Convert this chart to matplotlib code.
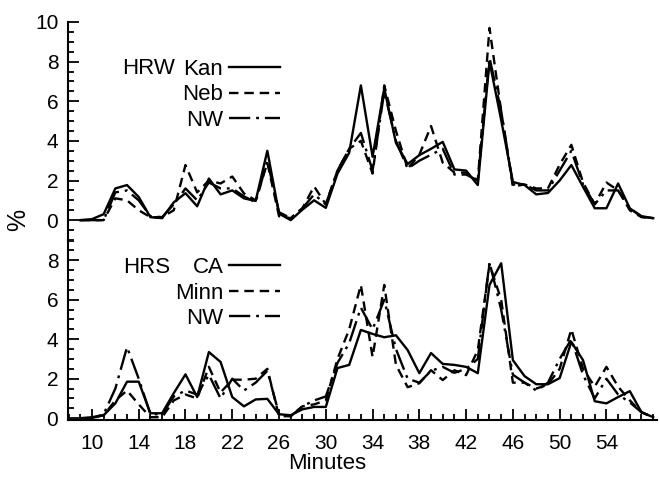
import matplotlib
matplotlib.use('Agg')
import matplotlib.pyplot as plt
from matplotlib.ticker import MultipleLocator

plt.rcParams['font.family'] = ['Liberation Sans', 'DejaVu Sans']

# minutos de 9 a 58
minutos = list(range(9, 59))

# painel superior (HRW)
kan = [0, 0.05, 0.3, 1.6, 1.77, 1.17, 0.15, 0.1, 0.9, 1.36, 0.7, 2.1, 1.3, 1.5, 1.1, 0.97,
       3.5, 0.33, 0, 0.53, 1.0, 0.62, 2.35, 3.4, 6.8, 3.2, 6.65, 3.9, 2.83, 3.28, 3.6, 3.95,
       2.56, 2.5, 1.77, 8.0, 5.05, 1.93, 1.77, 1.3, 1.37, 2.0, 2.78, 1.68, 0.6, 0.6, 1.85, 0.6,
       0.17, 0.1]
neb = [0, 0, 0, 1.1, 1.0, 0.5, 0.15, 0.15, 0.5, 2.78, 1.4, 2.0, 1.85, 2.2, 1.35, 1.0,
       2.9, 0.2, 0.1, 0.6, 1.7, 0.8, 2.5, 3.6, 4.0, 2.35, 6.8, 4.5, 2.6, 3.3, 4.75, 2.9,
       2.4, 2.4, 2.0, 9.7, 5.5, 1.7, 1.8, 1.6, 1.6, 2.8, 3.8, 1.9, 0.8, 1.9, 1.5, 0.5,
       0.15, 0.1]
nw1 = [0, 0, 0, 1.4, 1.5, 1.0, 0.2, 0.15, 0.8, 1.6, 1.0, 1.9, 1.6, 1.6, 1.2, 0.9,
       3.0, 0.4, 0.1, 0.6, 1.3, 0.8, 2.5, 3.6, 4.4, 2.5, 6.5, 4.0, 2.6, 3.0, 3.3, 3.6,
       2.3, 2.3, 2.0, 8.2, 5.5, 1.8, 1.8, 1.5, 1.5, 2.5, 3.5, 1.8, 0.8, 1.5, 1.5, 0.6,
       0.2, 0.1]

# painel inferior (HRS)
ca = [0, 0.05, 0.15, 0.75, 1.85, 1.85, 0.25, 0.25, 1.27, 2.22, 1.07, 3.35, 2.85, 1.07, 0.6, 0.95,
      0.98, 0.2, 0.15, 0.45, 0.57, 0.57, 2.54, 2.7, 4.47, 4.27, 4.1, 4.2, 3.45, 2.28, 3.3, 2.75,
      2.7, 2.6, 2.28, 6.75, 7.85, 2.94, 2.13, 1.72, 1.72, 2.03, 3.86, 2.94, 0.86, 0.75, 1.07, 1.37,
      0.3, 0.05]
minn = [0, 0, 0.15, 0.9, 1.4, 0.7, 0.05, 0.05, 0.9, 1.2, 1.0, 2.6, 1.3, 1.95, 1.95, 2.0,
        2.5, 0.1, 0.1, 0.6, 0.7, 0.9, 3.0, 4.5, 6.75, 3.1, 6.75, 2.7, 1.57, 1.77, 2.43, 1.93,
        2.43, 2.18, 3.45, 7.8, 6.0, 1.8, 1.8, 1.5, 1.7, 2.5, 4.5, 2.5, 1.6, 2.6, 1.6, 0.9,
        0.3, 0.05]
nw2 = [0, 0, 0.2, 1.5, 3.6, 2.0, 0.2, 0.2, 1.1, 1.4, 1.2, 2.2, 1.0, 2.0, 1.4, 1.8,
       2.4, 0.2, 0.1, 0.6, 0.9, 1.1, 2.8, 3.8, 5.6, 4.5, 6.0, 3.5, 2.0, 1.8, 2.4, 2.6,
       2.3, 2.5, 3.0, 7.9, 5.5, 2.2, 1.8, 1.4, 1.8, 3.0, 4.0, 2.2, 1.0, 2.0, 1.2, 0.8,
       0.3, 0.05]

fs = 15   # ticks
ft = 16   # textos
lw = 1.7
tr = (0, (4, 2.5))
tp = (0, (9, 2.5, 1.2, 2.5))

fig = plt.figure(figsize=(6.6, 4.78), dpi=100)
ax1 = fig.add_axes([0.103, 0.498, 0.892, 0.456])
ax2 = fig.add_axes([0.103, 0.121, 0.892, 0.377])

ax1.plot(minutos, kan, 'k-', lw=lw, label='Kan')
ax1.plot(minutos, neb, color='k', ls=tr, lw=lw, label='Neb')
ax1.plot(minutos, nw1, color='k', ls=tp, lw=lw, label='NW')
ax2.plot(minutos, ca, 'k-', lw=lw, label='CA')
ax2.plot(minutos, minn, color='k', ls=tr, lw=lw, label='Minn')
ax2.plot(minutos, nw2, color='k', ls=tp, lw=lw, label='NW')

for ax in (ax1, ax2):
    ax.set_xlim(7.95, 58.3)
    for s in ('top', 'right'):
        ax.spines[s].set_visible(False)
    ax.spines['left'].set_linewidth(1.5)
    ax.spines['bottom'].set_linewidth(1.5)
    ax.yaxis.set_major_locator(MultipleLocator(2))
    ax.yaxis.set_minor_locator(MultipleLocator(0.5))
    ax.tick_params(axis='y', which='both', direction='in', labelsize=fs, width=1.3, pad=7)
    ax.tick_params(axis='y', which='major', length=8)
    ax.tick_params(axis='y', which='minor', length=4)

ax1.set_ylim(-1.0, 10)
ax1.spines['bottom'].set_visible(False)
ax1.set_xticks([])
ax2.set_ylim(-0.1, 9.03)
ax2.set_yticks([0, 2, 4, 6, 8])
ax2.xaxis.set_major_locator(MultipleLocator(4))
ax2.xaxis.set_minor_locator(MultipleLocator(1))
ax2.set_xticks(range(10, 58, 4))
ax2.tick_params(axis='x', which='both', direction='in', labelsize=fs, width=1.3, pad=10)
ax2.tick_params(axis='x', which='major', length=8)
ax2.tick_params(axis='x', which='minor', length=4)
ax2.set_xlabel('Minutes', fontsize=ft, labelpad=0, x=0.441)

fig.text(0.027, 0.54, '%', fontsize=ft + 2, rotation=90, va='center', ha='center')

l1 = ax1.legend(loc='upper right', bbox_to_anchor=(0.36, 0.83), frameon=False, markerfirst=False,
                fontsize=ft, handlelength=2.3, handletextpad=0.25, labelspacing=0.2,
                borderpad=0, borderaxespad=0)
ax1.text(0.092, 0.787, 'HRW', transform=ax1.transAxes, fontsize=ft, va='center')
l2 = ax2.legend(loc='upper right', bbox_to_anchor=(0.36, 0.905), frameon=False, markerfirst=False,
                fontsize=ft, handlelength=2.3, handletextpad=0.25, labelspacing=0.2,
                borderpad=0, borderaxespad=0)
ax2.text(0.094, 0.847, 'HRS', transform=ax2.transAxes, fontsize=ft, va='center')

fig.savefig('out.png', dpi=100)
